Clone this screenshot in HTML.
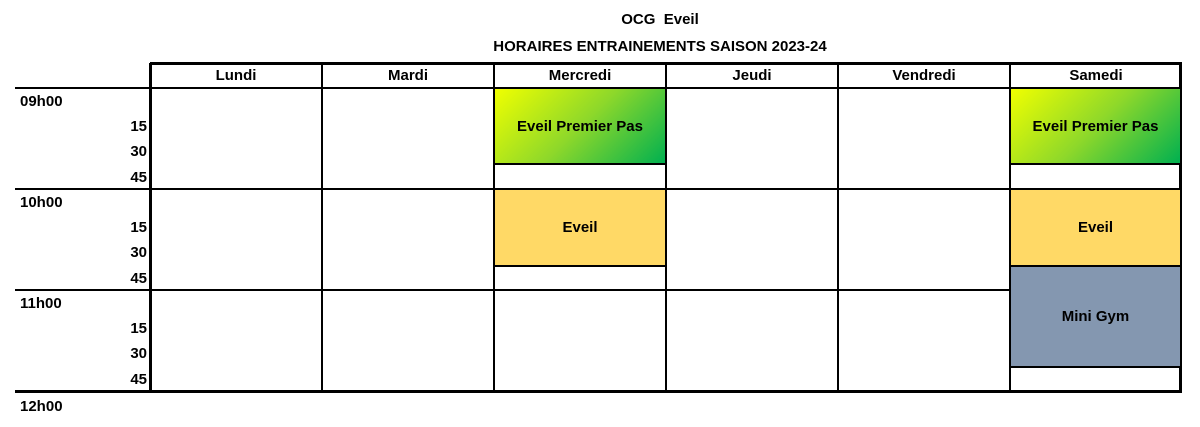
<!DOCTYPE html><html><head><style>
body{margin:0;width:1200px;height:427px;background:#fff;position:relative;font-family:"Liberation Sans",sans-serif;font-weight:bold;font-size:14px;color:#000;overflow:hidden}
div{position:absolute;box-sizing:border-box}
.t{text-align:center;width:1200px;left:0;font-size:15px}
.h{top:64px;height:24px;line-height:24px;text-align:center;font-size:15px}
.hl{height:2px;background:#000}
.vl{width:2px;background:#000;top:63px;height:330px}
.lab{left:15px;width:132px;height:25px;line-height:25px;font-size:15px}
.r{text-align:right}
.blk{border:2px solid #000;display:flex;align-items:center;justify-content:center;font-size:15px}
</style></head><body>
<div class="t" style="top:11px;left:60px">OCG&nbsp; Eveil</div>
<div class="t" style="top:38px;left:60px">HORAIRES ENTRAINEMENTS SAISON 2023-24</div>
<div class="hl" style="left:150px;top:62px;width:1032px;height:3px"></div>
<div class="hl" style="left:15px;top:87px;width:1167px"></div>
<div class="hl" style="left:15px;top:188px;width:1167px"></div>
<div class="hl" style="left:15px;top:289px;width:1167px"></div>
<div class="hl" style="left:15px;top:390px;width:1167px;height:3px"></div>
<div class="vl" style="left:149px;width:3px"></div>
<div class="vl" style="left:321px"></div>
<div class="vl" style="left:493px"></div>
<div class="vl" style="left:665px"></div>
<div class="vl" style="left:837px"></div>
<div class="vl" style="left:1009px"></div>
<div class="vl" style="left:1179px;width:3px"></div>
<div class="h" style="left:150px;width:172px">Lundi</div>
<div class="h" style="left:322px;width:172px">Mardi</div>
<div class="h" style="left:494px;width:172px">Mercredi</div>
<div class="h" style="left:666px;width:172px">Jeudi</div>
<div class="h" style="left:838px;width:172px">Vendredi</div>
<div class="h" style="left:1010px;width:172px">Samedi</div>
<div class="lab" style="top:89px;left:20px">09h00</div>
<div class="lab r" style="top:114px">15</div>
<div class="lab r" style="top:139px">30</div>
<div class="lab r" style="top:165px">45</div>
<div class="lab" style="top:190px;left:20px">10h00</div>
<div class="lab r" style="top:215px">15</div>
<div class="lab r" style="top:240px">30</div>
<div class="lab r" style="top:266px">45</div>
<div class="lab" style="top:291px;left:20px">11h00</div>
<div class="lab r" style="top:316px">15</div>
<div class="lab r" style="top:341px">30</div>
<div class="lab r" style="top:367px">45</div>
<div class="lab" style="top:394px;left:20px">12h00</div>
<div class="blk" style="left:493px;top:87px;width:174px;height:78px;background:linear-gradient(135deg,#f0ff00,#8ed82a 50%,#00b050)">Eveil Premier Pas</div>
<div class="blk" style="left:1009px;top:87px;width:173px;height:78px;background:linear-gradient(135deg,#f0ff00,#8ed82a 50%,#00b050)">Eveil Premier Pas</div>
<div class="blk" style="left:493px;top:188px;width:174px;height:79px;background:#ffd966">Eveil</div>
<div class="blk" style="left:1009px;top:188px;width:173px;height:79px;background:#ffd966">Eveil</div>
<div class="blk" style="left:1009px;top:265px;width:173px;height:103px;background:#8497b0">Mini Gym</div>
</body></html>
